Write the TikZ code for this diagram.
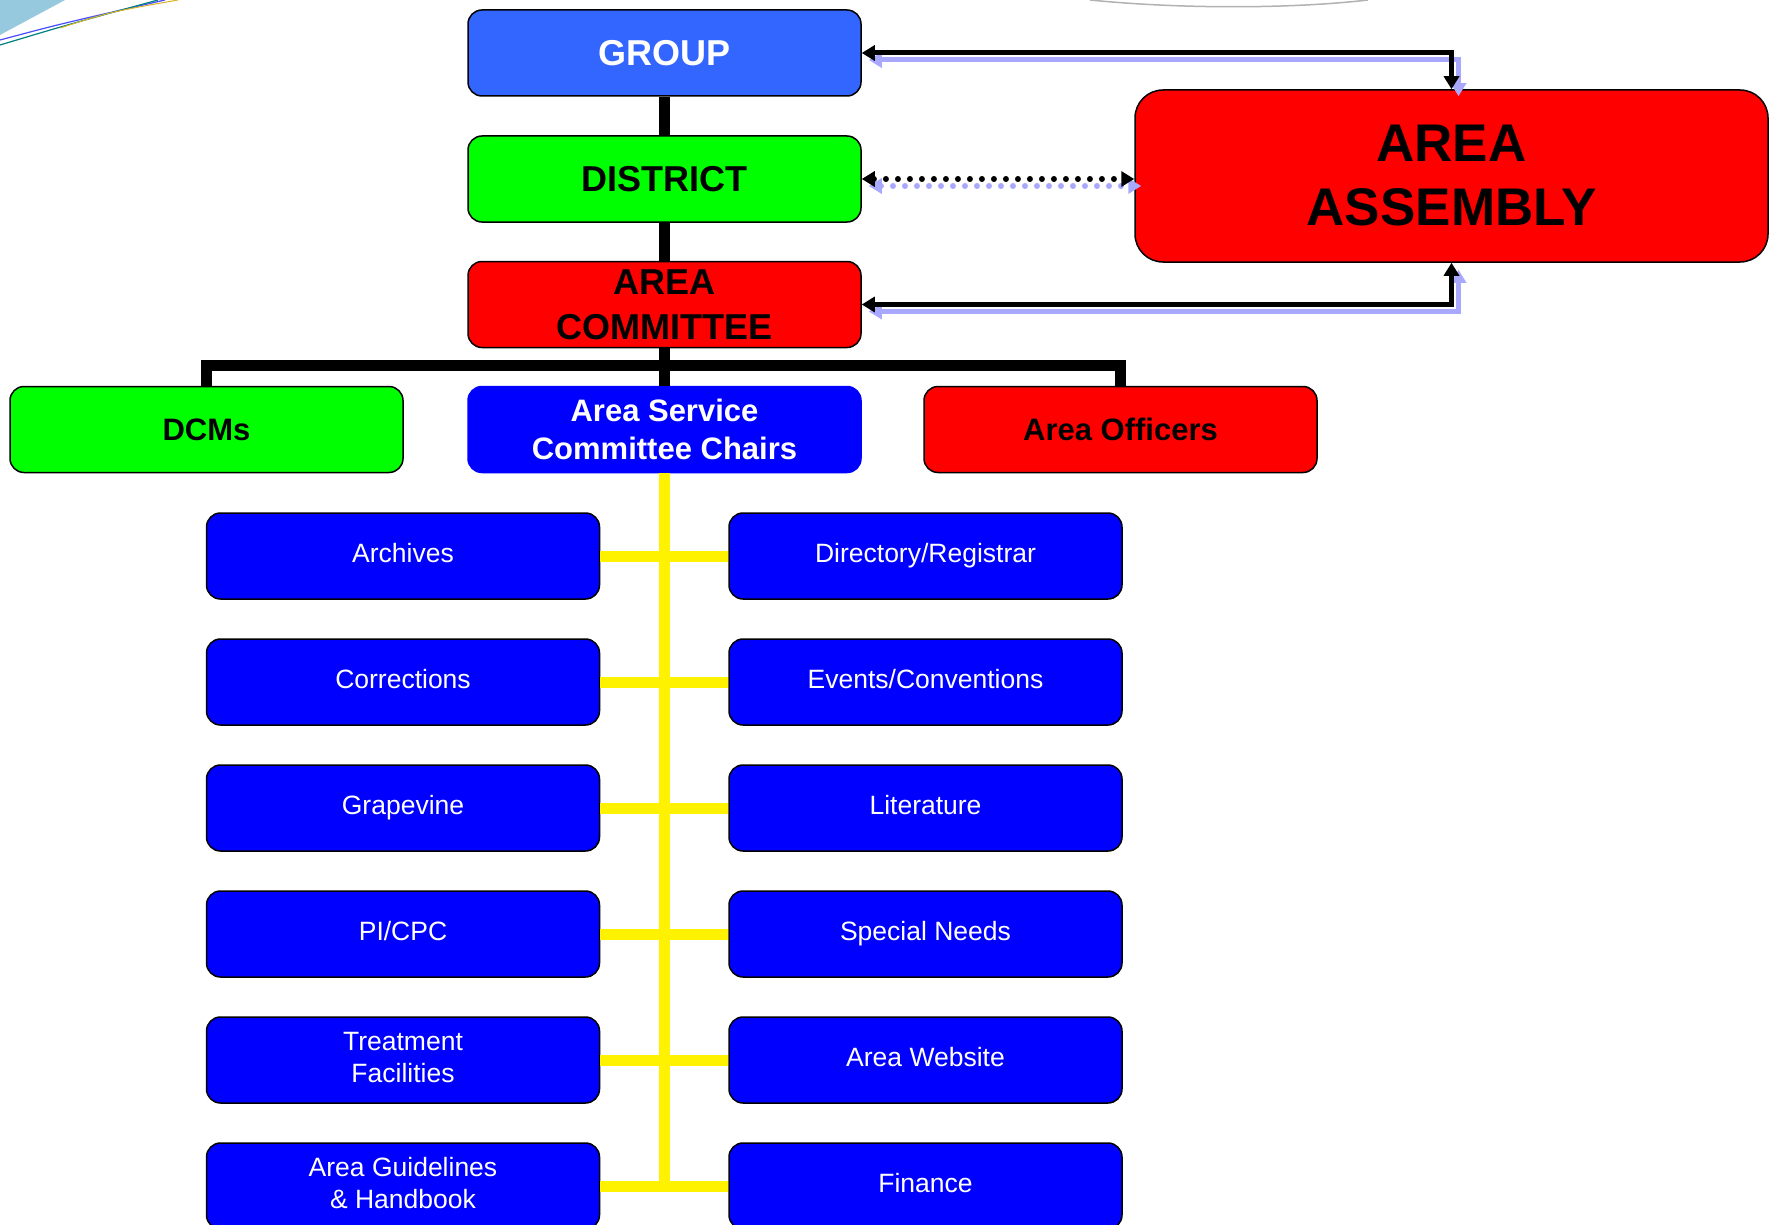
\documentclass[tikz,border=0pt]{standalone}
\usepackage{fontspec}
\setmainfont{Liberation Sans}
\usetikzlibrary{arrows.meta,positioning}
\definecolor{grpblue}{RGB}{51,102,255}
\definecolor{shadeblue}{RGB}{168,168,255}
\definecolor{deco}{RGB}{150,200,222}
\newcommand\st{\rule[-0.23em]{0pt}{0.95em}}

\begin{document}
\begin{tikzpicture}[x=1pt,y=-1pt,
box/.style={draw=black, line width=1.5pt, rounded corners=14pt, minimum width=393pt, minimum height=86pt, align=center, inner sep=0pt},
bigtxt/.style={font=\fontsize{36}{45}\selectfont\bfseries},
midtxt/.style={font=\fontsize{31}{38}\selectfont\bfseries},
item/.style={box, fill=blue, text=white, font=\fontsize{26.5}{32}\selectfont},
tree/.style={line width=11pt},
yline/.style={line width=11pt, yellow},
link/.style={line width=5pt, {Triangle[length=13pt,width=15pt]}-{Triangle[length=13pt,width=15pt]}},
dots/.style={line width=6pt, line cap=round, dash pattern=on 0pt off 12pt}]
\useasboundingbox (0,0) rectangle (1771,1225);
\fill[white] (0,0) rectangle (1771,1225);
% corner decoration
\fill[deco] (0,0) -- (65,0) -- (0,35) -- cycle;
\draw[blue!70!white, line width=1.2pt] (0,40) .. controls (60,24) .. (165,0);
\draw[teal, line width=1.2pt] (0,45) .. controls (70,24) .. (158,0);
\draw[brown!60!yellow, line width=1pt] (60,28) .. controls (110,12) .. (178,0);
\draw[gray!60, line width=1.5pt] (1090,0) .. controls (1180,9) and (1290,9) .. (1368,0);

% top chain
\node[box, fill=grpblue, bigtxt, text=white] (grp) at (664.5,53) {GROUP};
\node[box, fill=green, bigtxt] (dist) at (664.5,179) {DISTRICT};
\node[box, fill=red, bigtxt] (acom) at (664.5,304.5) {AREA\\COMMITTEE};
\node[box, fill=red, minimum width=633pt, minimum height=172pt, rounded corners=28pt, font=\fontsize{53}{64}\selectfont\bfseries] (asm) at (1451.5,176) {AREA\\ASSEMBLY};

\node[box, fill=green, midtxt] (dcm) at (206.5,429.5) {DCMs};
\node[box, fill=blue, draw=blue, midtxt, text=white] (asc) at (664.5,429.5) {Area Service\\Committee Chairs};
\node[box, fill=red, midtxt] (off) at (1120.5,429.5) {Area Officers};

% service chairs
\foreach \i/\l/\r in {1/Archives/{Directory/Registrar},2/Corrections/{Events/Conventions},3/Grapevine/Literature,4/{PI/CPC}/{Special Needs},5/{Treatment\st\\Facilities\st}/{Area Website},6/{Area Guidelines\st\\\& Handbook\st}/Finance}{
\node[item] (l\i) at (403,430+126*\i) {\st\l};
\node[item] (r\i) at (925.5,430+126*\i) {\st\r};
}

\draw[tree] (grp) -- (dist) -- (acom) -- (asc);
\draw[tree] (dcm.north) |- ([yshift=20pt]asc.north) -| (off.north);
\draw[yline] (asc) -- (asc.south |- l6.east);
\foreach \i in {1,...,6}{\draw[yline] (l\i) -- (r\i);}

% links to the assembly, with their shadows
\foreach \c/\d in {shadeblue/7,black/0}{
\begin{scope}[transform canvas={xshift=\d pt,yshift=-\d pt}, draw=\c, fill=\c]
\draw[link] (grp.east) -| (asm.north);
\draw[link, dots] (dist.east) -- (dist.east -| asm.west);
\draw[link] (acom.east) -| (asm.south);
\end{scope}
}
\end{tikzpicture}
\end{document}
